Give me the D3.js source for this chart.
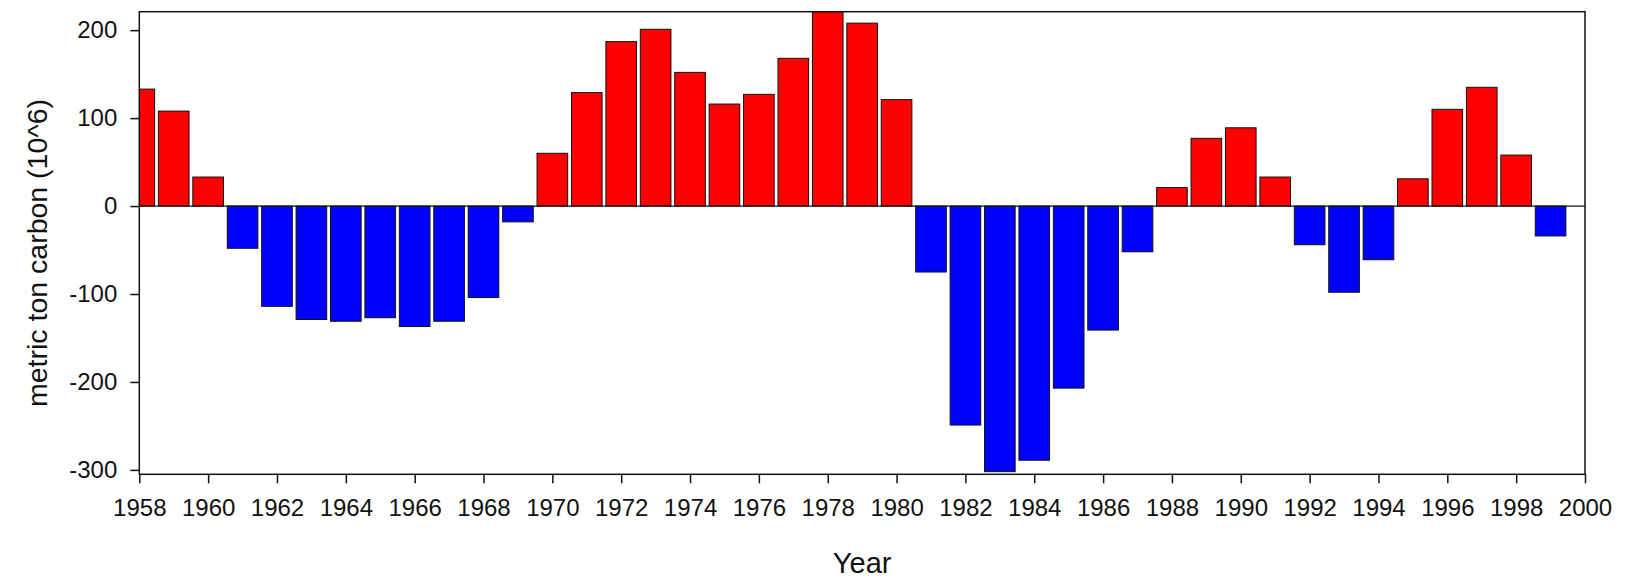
<!DOCTYPE html>
<html>
<head>
<meta charset="utf-8">
<script src="https://cdn.jsdelivr.net/npm/d3@7"></script>
<style>
  html, body { margin: 0; padding: 0; background: #ffffff; }
  svg { display: block; }
  text { font-family: "Liberation Sans", Arial, sans-serif; fill: #111; }
</style>
</head>
<body>
<svg id="chart" width="1627" height="579"></svg>
<script>
const years = [1958,1959,1960,1961,1962,1963,1964,1965,1966,1967,1968,1969,
  1970,1971,1972,1973,1974,1975,1976,1977,1978,1979,1980,
  1981,1982,1983,1984,1985,1986,1987,1988,1989,1990,
  1991,1992,1993,1994,1995,1996,1997,1998,1999];
const values = [133,108,33,-48,-114,-129,-131,-127,-137,-131,-104,-18,
  60,129,187,201,152,116,127,168,224,208,121,
  -75,-249,-302,-289,-207,-141,-52,21,77,89,
  33,-44,-98,-61,31,110,135,58,-34];
const xTicks = d3.range(1958, 2001, 2);
const yTicks = [-300, -200, -100, 0, 100, 200];
const xTitle = "Year";
const yTitle = "metric ton carbon (10^6)";

const svg = d3.select("#chart");
const pLeft = 139.3, pRight = 1585, pTop = 11.7, pBottom = 474.3;

const x = d3.scaleLinear().domain([1958, 2000]).range([pLeft, pRight]);
const y = d3.scaleLinear().domain([-305, 221]).range([pBottom, pTop]);
const bw = (x(1959) - x(1958)) * 0.89;

svg.append("defs").append("clipPath").attr("id", "plotclip")
  .append("rect").attr("x", pLeft).attr("y", pTop)
  .attr("width", pRight - pLeft).attr("height", pBottom - pTop);

const g = svg.append("g").attr("clip-path", "url(#plotclip)");
g.selectAll("rect.bar").data(years).join("rect")
  .attr("class", "bar")
  .attr("x", (d) => x(d) - bw / 2)
  .attr("width", bw)
  .attr("y", (d, i) => y(Math.max(0, values[i])))
  .attr("height", (d, i) => Math.abs(y(values[i]) - y(0)))
  .attr("fill", (d, i) => values[i] >= 0 ? "#ff0000" : "#0000ff")
  .attr("stroke", "#111")
  .attr("stroke-width", 1);

// zero line
svg.append("line")
  .attr("x1", pLeft).attr("x2", pRight)
  .attr("y1", y(0)).attr("y2", y(0))
  .attr("stroke", "#111").attr("stroke-width", 1.3);

// frame
svg.append("rect")
  .attr("x", pLeft).attr("y", pTop)
  .attr("width", pRight - pLeft).attr("height", pBottom - pTop)
  .attr("fill", "none").attr("stroke", "#111").attr("stroke-width", 1.5);

const plainFmt = (d) => String(d);

// x axis
const xAxis = d3.axisBottom(x).tickValues(xTicks).tickFormat(plainFmt)
  .tickSize(9).tickPadding(16);
const gx = svg.append("g").attr("transform", `translate(0,${pBottom})`).call(xAxis);
gx.select(".domain").remove();
gx.selectAll(".tick line").attr("stroke", "#111").attr("stroke-width", 1.5);
gx.selectAll(".tick text").attr("font-size", 24).attr("fill", "#111")
  .style("font-family", "'Liberation Sans', Arial, sans-serif");

// y axis
const yAxis = d3.axisLeft(y).tickValues(yTicks).tickFormat(plainFmt)
  .tickSize(9).tickPadding(13);
const gy = svg.append("g").attr("transform", `translate(${pLeft},0)`).call(yAxis);
gy.select(".domain").remove();
gy.selectAll(".tick line").attr("stroke", "#111").attr("stroke-width", 1.5);
gy.selectAll(".tick text").attr("font-size", 24).attr("fill", "#111")
  .style("font-family", "'Liberation Sans', Arial, sans-serif");

// titles
svg.append("text")
  .attr("x", (pLeft + pRight) / 2).attr("y", 573)
  .attr("text-anchor", "middle")
  .attr("font-size", 29)
  .text(xTitle);

svg.append("text")
  .attr("transform", `translate(47,253) rotate(-90)`)
  .attr("text-anchor", "middle")
  .attr("font-size", 28.5)
  .text(yTitle);
</script>
</body>
</html>
